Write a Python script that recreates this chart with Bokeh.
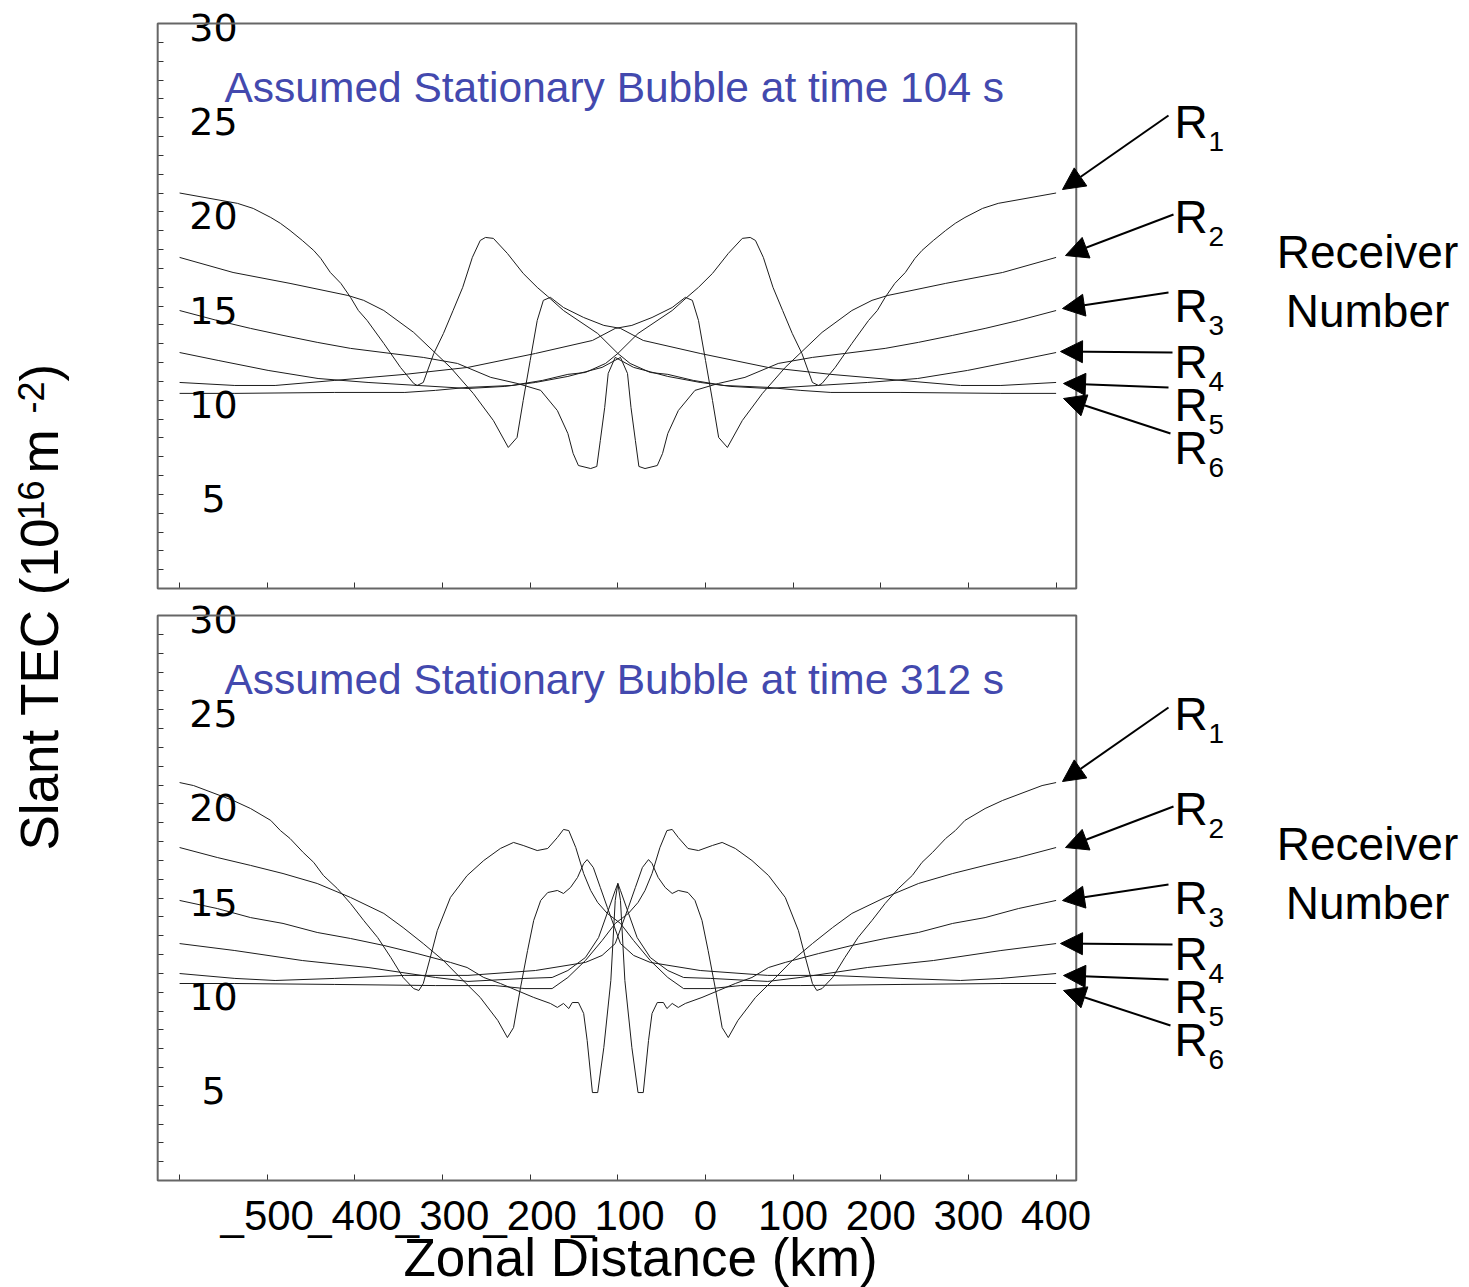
from bokeh.plotting import figure
from bokeh.models import Range1d, LinearAxis, FixedTicker, BoxAnnotation, Arrow, NormalHead
from bokeh.core.properties import value
from bokeh.embed import file_html
from bokeh.resources import INLINE
import math

# ---------------- data (zonal distance km, slant TEC 1e16 m^-2) ----------------
# Top panel: t = 104 s
top_r1_km = [-600, -537, -423, -343, -308, -271, -221, -186, -157, -137, -114, -100, -77, -38, -20, -8, 8, 26, 42, 51,
             57, 66, 77, 88, 99, 110, 122, 129, 133, 148, 167, 186, 196, 205, 216, 228, 239, 247, 260, 274,
             285, 296, 316, 334, 400]
top_r1_tec = [10.36, 10.36, 10.41, 10.41, 10.52, 10.68, 10.78, 11.05, 11.37, 11.47, 11.95, 12.48, 13.54, 14.76, 15.51, 15.99, 16.73, 17.79, 18.59, 18.64,
              18.48, 17.58, 15.99, 14.76, 13.54, 12.48, 10.94, 10.78, 10.89, 11.74, 13.01, 14.23, 14.76, 15.46, 16.2, 16.78, 17.53, 17.95, 18.48, 19.01,
              19.39, 19.7, 20.18, 20.45, 21.0]
top_r2_km = [-600, -537, -491, -423, -343, -271, -194, -129, -103, -84, -61, -38, -23, -15, -8, 0, 8, 15, 25, 42,
             65, 91, 133, 167, 190, 208, 274, 339, 400]
top_r2_tec = [10.94, 10.78, 10.78, 11.05, 11.37, 11.74, 12.48, 13.17, 13.81, 13.97, 14.39, 14.92, 15.46, 15.3, 14.23, 12.11, 9.98, 8.02, 7.49, 8.92,
              10.36, 11.74, 13.6, 14.76, 15.3, 15.56, 16.2, 16.78, 17.58]
top_r3_km = [-600, -556, -499, -442, -385, -328, -271, -229, -194, -157, -118, -97, -89, -85, -80, -76, -69, -55, -49, -43,
             -31, -12, 15, 45, 83, 122, 159, 205, 243, 282, 319, 357, 400]
top_r3_tec = [12.53, 12.11, 11.58, 11.15, 10.94, 10.78, 10.62, 10.73, 10.94, 11.26, 11.74, 12.27, 11.42, 9.61, 7.86, 6.48, 6.37, 6.53, 7.17, 8.23,
              9.45, 10.52, 10.89, 11.21, 11.95, 12.27, 12.48, 12.75, 13.07, 13.44, 13.81, 14.23, 14.76]
top_r4_km = [-600, -557, -519, -482, -443, -405, -359, -322, -283, -245, -215, -188, -169, -157, -151, -145, -131, -124, -120, -115,
             -111, -103, -82, -43, -6, 29, 71, 128, 185, 242, 299, 356, 400]
top_r4_tec = [14.76, 14.23, 13.81, 13.44, 13.07, 12.75, 12.48, 12.27, 11.95, 11.21, 10.89, 10.52, 9.45, 8.23, 7.17, 6.53, 6.37, 6.48, 7.86, 9.61,
              11.42, 12.27, 11.74, 11.26, 10.94, 10.73, 10.62, 10.78, 10.94, 11.15, 11.58, 12.11, 12.53]
top_r5_km = [-600, -539, -474, -408, -390, -367, -333, -291, -265, -242, -225, -215, -208, -200, -192, -185, -177, -162, -139, -116,
             -97, -71, -6, 71, 143, 223, 291, 337, 400]
top_r5_tec = [17.58, 16.78, 16.2, 15.56, 15.3, 14.76, 13.6, 11.74, 10.36, 8.92, 7.49, 8.02, 9.98, 12.11, 14.23, 15.3, 15.46, 14.92, 14.39, 13.97,
              13.81, 13.17, 12.48, 11.74, 11.37, 11.05, 10.78, 10.78, 10.94]
top_r6_km = [-600, -534, -516, -496, -485, -474, -460, -447, -439, -428, -416, -405, -396, -386, -367, -348, -333, -329, -322, -310,
             -299, -288, -277, -266, -257, -251, -242, -226, -208, -192, -180, -162, -123, -100, -86, -63, -43, -14, 21, 71,
             108, 143, 223, 337, 400]
top_r6_tec = [21.0, 20.45, 20.18, 19.7, 19.39, 19.01, 18.48, 17.95, 17.53, 16.78, 16.2, 15.46, 14.76, 14.23, 13.01, 11.74, 10.89, 10.78, 10.94, 12.48,
              13.54, 14.76, 15.99, 17.58, 18.48, 18.64, 18.59, 17.79, 16.73, 15.99, 15.51, 14.76, 13.54, 12.48, 11.95, 11.47, 11.37, 11.05, 10.78, 10.68,
              10.52, 10.41, 10.41, 10.36, 10.36]

# Bottom panel: t = 312 s
bot_r1_km = [-600, -537, -423, -308, -240, -206, -175, -157, -137, -118, -103, -88, -77, -69, -61, -52, -44, -38, -31, -20,
             -8, 8, 19, 34, 53, 72, 91, 106, 114, 122, 127, 133, 145, 159, 174, 190, 205, 220, 236, 247,
             259, 274, 285, 296, 319, 339, 384, 400]
bot_r1_tec = [10.46, 10.46, 10.41, 10.35, 10.35, 10.19, 10.19, 10.78, 11.68, 12.74, 13.65, 14.18, 14.76, 15.4, 16.3, 17.68, 18.58, 18.64, 18.21, 17.63,
              17.52, 17.79, 17.95, 17.63, 16.99, 16.19, 15.03, 13.27, 11.84, 10.46, 10.09, 10.19, 10.78, 11.84, 12.9, 13.81, 14.71, 15.5, 16.2, 16.89,
              17.42, 18.16, 18.58, 19.12, 19.75, 20.18, 20.97, 21.13]
bot_r2_km = [-600, -537, -491, -423, -343, -271, -194, -137, -118, -103, -88, -80, -72, -65, -61, -54, -46, -38, -31, -20,
             -12, -4, 3, 11, 19, 26, 37, 57, 80, 99, 122, 145, 167, 205, 243, 282, 319, 357, 400]
bot_r2_tec = [10.99, 10.73, 10.62, 10.73, 10.89, 10.89, 11.15, 11.58, 11.95, 12.58, 14.5, 15.56, 16.62, 17.04, 16.83, 16.09, 15.56, 15.24, 15.4, 15.29,
              14.87, 13.81, 12.21, 10.25, 8.12, 7.59, 8.5, 9.72, 10.78, 11.68, 12.58, 13.43, 14.18, 15.03, 15.77, 16.3, 16.73, 17.15, 17.68]
bot_r3_km = [-600, -537, -460, -385, -308, -271, -206, -175, -157, -137, -122, -111, -103, -100, -97, -92, -84, -77, -71, -65,
             -61, -55, -48, -44, -38, -31, -23, -4, 15, 34, 53, 72, 91, 129, 167, 205, 243, 282, 319, 357, 400]
bot_r3_tec = [12.58, 12.21, 11.68, 11.31, 10.78, 10.57, 10.73, 10.78, 11.15, 11.84, 12.9, 14.34, 15.4, 15.77, 14.87, 10.62, 7.06, 4.67, 4.67, 7.43,
              8.87, 9.45, 9.45, 9.13, 9.4, 9.19, 9.4, 9.72, 10.09, 10.46, 10.78, 11.31, 11.58, 12.05, 12.48, 12.85, 13.17, 13.65, 13.96, 14.44, 14.87]
bot_r4_km = [-600, -557, -519, -482, -443, -405, -367, -329, -291, -272, -253, -234, -215, -196, -177, -169, -162, -156, -152, -145,
             -139, -135, -129, -123, -116, -108, -103, -100, -97, -89, -78, -63, -43, -25, 6, 71, 108, 185, 260, 337, 400]
bot_r4_tec = [14.87, 14.44, 13.96, 13.65, 13.17, 12.85, 12.48, 12.05, 11.58, 11.31, 10.78, 10.46, 10.09, 9.72, 9.4, 9.19, 9.4, 9.13, 9.45, 9.45,
              8.87, 7.43, 4.67, 4.67, 7.06, 10.62, 14.87, 15.77, 15.4, 14.34, 12.9, 11.84, 11.15, 10.78, 10.73, 10.57, 10.78, 11.31, 11.68, 12.21, 12.58]
bot_r5_km = [-600, -557, -519, -482, -443, -405, -367, -345, -322, -299, -280, -257, -237, -226, -219, -211, -203, -196, -188, -180,
             -169, -162, -154, -146, -139, -135, -128, -120, -112, -97, -82, -63, -6, 71, 143, 223, 291, 337, 400]
bot_r5_tec = [17.68, 17.15, 16.73, 16.3, 15.77, 15.03, 14.18, 13.43, 12.58, 11.68, 10.78, 9.72, 8.5, 7.59, 8.12, 10.25, 12.21, 13.81, 14.87, 15.29,
              15.4, 15.24, 15.56, 16.09, 16.83, 17.04, 16.62, 15.56, 14.5, 12.58, 11.95, 11.58, 11.15, 10.89, 10.89, 10.73, 10.62, 10.73, 10.99]
bot_r6_km = [-600, -584, -539, -519, -496, -485, -474, -459, -447, -436, -420, -405, -390, -374, -359, -345, -333, -327, -322, -314,
             -306, -291, -272, -253, -234, -219, -208, -192, -180, -169, -162, -156, -148, -139, -131, -123, -112, -97, -82, -63,
             -43, -25, 6, 40, 108, 223, 337, 400]
bot_r6_tec = [21.13, 20.97, 20.18, 19.75, 19.12, 18.58, 18.16, 17.42, 16.89, 16.2, 15.5, 14.71, 13.81, 12.9, 11.84, 10.78, 10.19, 10.09, 10.46, 11.84,
              13.27, 15.03, 16.19, 16.99, 17.63, 17.95, 17.79, 17.52, 17.63, 18.21, 18.64, 18.58, 17.68, 16.3, 15.4, 14.76, 14.18, 13.65, 12.74, 11.68,
              10.78, 10.19, 10.19, 10.35, 10.35, 10.41, 10.46, 10.46]

receivers = ["1", "2", "3", "4", "5", "6"]
titles = ["Assumed Stationary Bubble at time 104 s", "Assumed Stationary Bubble at time 312 s"]
y_ticks = [5, 10, 15, 20, 25, 30]
y_tick_labels = ["5", "10", "15", "20", "25", "30"]
y_minor = list(range(1, 30))
x_ticks = [-600, -500, -400, -300, -200, -100, 0, 100, 200, 300, 400]
x_tick_labels = ["", "_500", "_400", "_300", "_200", "_100", "0", "100", "200", "300", "400"]
X_LO, X_HI, Y_LO, Y_HI = -625, 423, 0, 30

# ---------------- layout constants ----------------
W, H = 1469, 1287
KX = 0.8765       # px per km
KY = 18.8333      # px per TEC unit
X0_PX = 705       # screen x of 0 km
ZERO_PX = {"top": 588, "default": 1180}   # screen y of TEC=0
SHIFT = {"top": 0, "default": 592}

def sx(px):
    return (px - X0_PX) / KX

def sy(py, rn):
    return (ZERO_PX[rn] - py) / KY

xr = Range1d(sx(0), sx(0) + W / KX)
yr_bot = Range1d(sy(H, "default"), sy(H, "default") + H / KY)
yr_top = Range1d(sy(H, "top"), sy(H, "top") + H / KY)

p = figure(width=W, height=H, x_range=xr, y_range=yr_bot, output_backend="svg",
           toolbar_location=None, x_axis_location=None, y_axis_location=None,
           min_border=0, outline_line_color=None, background_fill_color="white",
           border_fill_color="white")
p.min_border_left = p.min_border_right = p.min_border_top = p.min_border_bottom = 0
p.extra_y_ranges = {"top": yr_top}
p.grid.visible = False

SANS = "Liberation Sans"
LINE_COL = "#1c1c1c"
TITLE_COL = "#4349AE"
MID = 0.36   # distance baseline -> visual middle, as fraction of font size

panels = [
    ("top", titles[0], [(top_r1_km, top_r1_tec), (top_r2_km, top_r2_tec), (top_r3_km, top_r3_tec),
                        (top_r4_km, top_r4_tec), (top_r5_km, top_r5_tec), (top_r6_km, top_r6_tec)], False),
    ("default", titles[1], [(bot_r1_km, bot_r1_tec), (bot_r2_km, bot_r2_tec), (bot_r3_km, bot_r3_tec),
                            (bot_r4_km, bot_r4_tec), (bot_r5_km, bot_r5_tec), (bot_r6_km, bot_r6_tec)], True),
]

# arrow geometry (screen px, top panel; bottom panel shifted)
arrow_tail = [(1168, 115), (1173, 214), (1168, 292), (1172, 352), (1168, 387), (1170, 433)]
arrow_tip = [(1062, 189), (1065, 255), (1062, 308), (1060, 351), (1063, 383), (1063, 398)]
r_base = [138, 233, 322, 378, 421, 464]

for rn, title, curves, show_labels in panels:
    d = SHIFT[rn]
    # panel box
    p.add_layout(BoxAnnotation(left=X_LO, right=X_HI, bottom=Y_LO, top=Y_HI, y_range_name=rn,
                               fill_color=None, fill_alpha=0, line_color="#666666", line_alpha=1.0,
                               line_width=2))
    # left axis (ticks only)
    ya = LinearAxis(y_range_name=rn, fixed_location=X_LO, bounds=(Y_LO, Y_HI),
                    ticker=FixedTicker(ticks=y_minor, minor_ticks=[]),
                    major_label_overrides={t: "" for t in y_minor},
                    axis_line_color=None, major_tick_in=6, major_tick_out=0,
                    major_tick_line_color="#333333", major_tick_line_width=1,
                    minor_tick_line_color=None)
    p.add_layout(ya, "left")
    # bottom axis
    xa = LinearAxis(y_range_name=rn, fixed_location=Y_LO, bounds=(X_LO, X_HI),
                    ticker=FixedTicker(ticks=x_ticks, minor_ticks=[]),
                    axis_line_color=None, major_tick_in=6, major_tick_out=0,
                    major_tick_line_color="#333333", major_tick_line_width=1,
                    minor_tick_line_color=None,
                    major_label_text_font=SANS, major_label_text_font_size="42px",
                    major_label_text_color="black", major_label_standoff=11)
    if show_labels:
        xa.major_label_overrides = {t: l for t, l in zip(x_ticks, x_tick_labels)}
    else:
        xa.major_label_overrides = {t: "" for t in x_ticks}
    p.add_layout(xa, "below")

    # curves
    for km, tec in curves:
        p.line(km, tec, line_color=LINE_COL, line_width=1, y_range_name=rn)

    # y tick labels drawn inside the box
    p.text(x=[sx(213)] * len(y_ticks), y=y_ticks, text=y_tick_labels, y_range_name=rn,
           text_font=value("DejaVu Sans"), text_font_size="38px", text_color="black",
           text_align="center", text_baseline="middle", y_offset=4)

    # title
    p.text(x=[sx(224)], y=[sy(102 - MID * 42.5 + d, rn)], text=[title], y_range_name=rn,
           text_font=value(SANS), text_font_size="42.5px", text_color=TITLE_COL,
           text_align="left", text_baseline="middle")

    # receiver labels R_n
    p.text(x=[sx(1174)] * 6, y=[sy(b - MID * 46 + d, rn) for b in r_base], text=["R"] * 6, y_range_name=rn,
           text_font=value(SANS), text_font_size="46px", text_color="black",
           text_align="left", text_baseline="middle")
    p.text(x=[sx(1208)] * 6, y=[sy(b + 13 - MID * 28 + d, rn) for b in r_base], text=receivers, y_range_name=rn,
           text_font=value(SANS), text_font_size="28px", text_color="black",
           text_align="left", text_baseline="middle")
    # arrows
    for (tx, ty), (hx, hy) in zip(arrow_tail, arrow_tip):
        p.add_layout(Arrow(x_start=sx(tx), y_start=sy(ty + d, rn), x_end=sx(hx), y_end=sy(hy + d, rn),
                           y_range_name=rn, line_color="black", line_width=2,
                           end=NormalHead(size=22, fill_color="black", line_color="black", line_width=1)))
    # "Receiver Number"
    p.text(x=[sx(1367)] * 2, y=[sy(268 - MID * 46 + d, rn), sy(327 - MID * 46 + d, rn)],
           text=["Receiver", "Number"], y_range_name=rn,
           text_font=value(SANS), text_font_size="46px", text_color="black",
           text_align="center", text_baseline="middle")

# x axis title
p.text(x=[sx(640)], y=[sy(1276 - MID * 53, "default")], text=["Zonal Distance (km)"],
       text_font=value(SANS), text_font_size="53px", text_color="black",
       text_align="center", text_baseline="middle")

# y axis title (rotated, with superscripts): (text, start y px, baseline x px, font px)
ylab_parts = [("Slant TEC (10", 850, 58, 53), ("16", 520, 43, 36), (" m", 473, 58, 53),
              ("-2", 413, 43, 36), (")", 381, 58, 53)]
for txt, ypx, xpx, fs in ylab_parts:
    p.text(x=[sx(xpx - MID * fs)], y=[sy(ypx, "default")], text=[txt], angle=math.pi / 2,
           text_font=value(SANS), text_font_size="%dpx" % fs, text_color="black",
           text_align="left", text_baseline="middle")

open("out.html", "w").write(file_html(p, INLINE))
